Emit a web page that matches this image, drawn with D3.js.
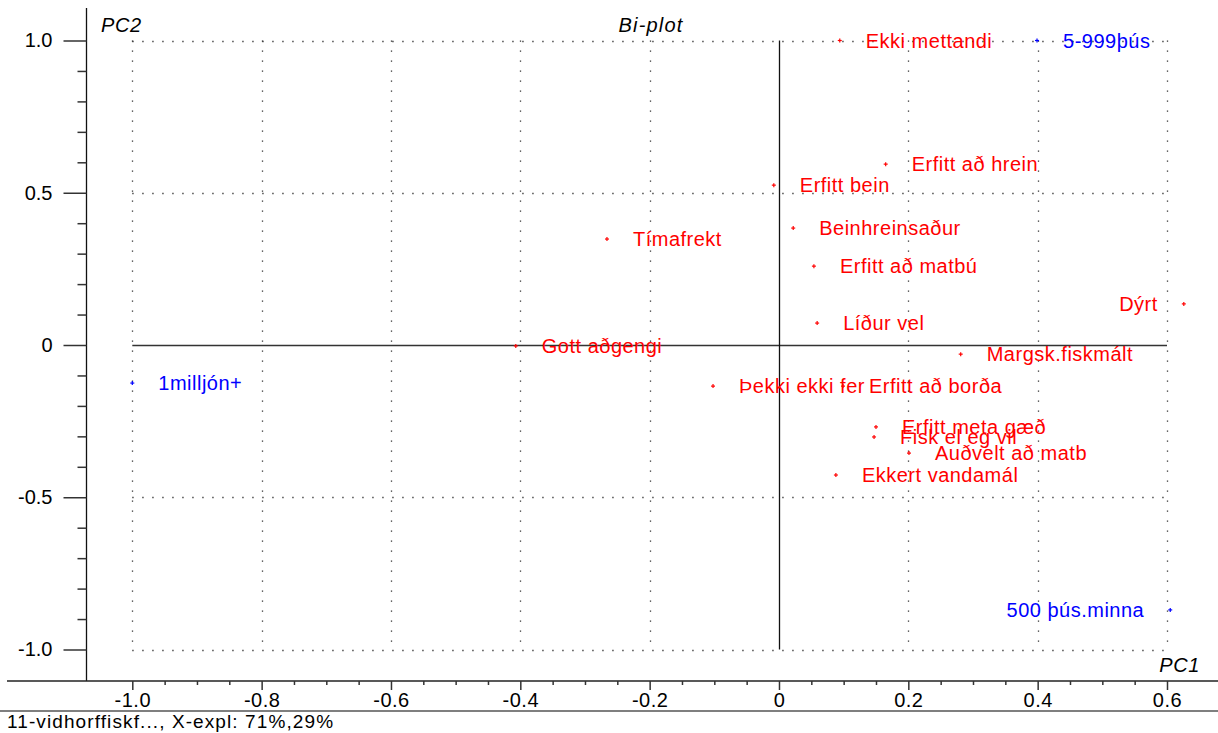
<!DOCTYPE html>
<html><head><meta charset="utf-8">
<script src="https://cdn.jsdelivr.net/npm/d3@7"></script>
<style>body{margin:0;background:#fff}svg{display:block}text{font-family:"Liberation Sans",Arial,sans-serif}</style>
</head><body>
<svg id="c" width="1218" height="733"></svg>
<script>
const labels = ["Ekki mettandi","Erfitt að hrein","Erfitt bein","Beinhreinsaður","Tímafrekt","Erfitt að matbú","Dýrt","Líður vel","Gott aðgengi","Margsk.fiskmált","Þekki ekki fer","Erfitt að borða","Erfitt meta gæð","Fisk el eg vil","Auðvelt að matb","Ekkert vandamál"];
const pc1 = [0.094,0.165,-0.008,0.022,-0.266,0.054,0.626,0.059,-0.407,0.281,-0.102,0.099,0.150,0.147,0.201,0.088];
const pc2 = [1.0,0.594,0.525,0.384,0.348,0.259,0.135,0.072,-0.003,-0.030,-0.135,-0.135,-0.269,-0.302,-0.355,-0.427];
const anchorEnd = ["Dýrt"];
const groupLabels = ["5-999þús","1milljón+","500 þús.minna"];
const groupPc1 = [0.399,-1.0,0.605];
const groupPc2 = [1.0,-0.125,-0.870];
const groupAnchorEnd = ["500 þús.minna"];
const xMajor = [-1.0,-0.8,-0.6,-0.4,-0.2,0,0.2,0.4,0.6];
const xMajorLabels = ["-1.0","-0.8","-0.6","-0.4","-0.2","0","0.2","0.4","0.6"];
const yMajor = [1.0,0.5,0,-0.5,-1.0];
const yMajorLabels = ["1.0","0.5","0","-0.5","-1.0"];
const footer = "11-vidhorffiskf..., X-expl: 71%,29%";

const svg = d3.select("#c");
const x = d3.scaleLinear().domain([-1,0.6]).range([132.3,1167]);
const y = d3.scaleLinear().domain([-1,1]).range([649.5,40.5]);

// grid
const g = svg.append("g");
xMajor.filter(v=>v!==0).forEach(v=>{
  g.append("line").attr("x1",Math.round(x(v))+0.5).attr("x2",Math.round(x(v))+0.5).attr("y1",y(1)).attr("y2",y(-1))
   .attr("stroke","#333").attr("stroke-width",1.3).attr("stroke-dasharray","1.3,8.7");
});
yMajor.filter(v=>v!==0).forEach(v=>{
  g.append("line").attr("x1",x(-1)).attr("x2",x(0.6)).attr("y1",Math.round(y(v))+0.5).attr("y2",Math.round(y(v))+0.5)
   .attr("stroke","#333").attr("stroke-width",1.3).attr("stroke-dasharray","1.3,8.7");
});
// zero axes
g.append("line").attr("x1",x(-1)).attr("x2",x(0.6)).attr("y1",Math.round(y(0))+0.5).attr("y2",Math.round(y(0))+0.5).attr("stroke","#333").attr("stroke-width",1.3);
g.append("line").attr("x1",Math.round(x(0))+0.5).attr("x2",Math.round(x(0))+0.5).attr("y1",y(1)).attr("y2",y(-1)).attr("stroke","#111").attr("stroke-width",1.3);

// left axis
const yAxisX = 86.5;
svg.append("line").attr("x1",yAxisX).attr("x2",yAxisX).attr("y1",8).attr("y2",681).attr("stroke","#111").attr("stroke-width",1.3);
const yMinor = d3.range(-10,11).map(i=>i/10).filter(v=>!yMajor.some(m=>Math.abs(m-v)<1e-9));
const yAxMinor = svg.append("g").attr("transform",`translate(${yAxisX},0)`).call(d3.axisLeft(y).tickValues(yMinor).tickSize(9).tickFormat(""));
const yAx = svg.append("g").attr("transform",`translate(${yAxisX},0)`).call(d3.axisLeft(y).tickValues(yMajor).tickSize(23).tickPadding(11).tickFormat((d,i)=>yMajorLabels[i]));
[yAxMinor,yAx].forEach(a=>{a.select(".domain").remove();a.selectAll("line").attr("stroke","#333").attr("stroke-width",1.5);});
yAx.selectAll("text").attr("font-size",20).attr("fill","#000").attr("font-family","Liberation Sans, Arial, sans-serif");

// bottom axis
const xAxisY = 681;
svg.append("line").attr("x1",7).attr("x2",1218).attr("y1",xAxisY).attr("y2",xAxisY).attr("stroke","#222").attr("stroke-width",1.5);
const xMinor = d3.range(-20,13).map(i=>i/20).filter(v=>!xMajor.some(m=>Math.abs(m-v)<1e-9));
const xAxMinor = svg.append("g").attr("transform",`translate(0,${xAxisY})`).call(d3.axisBottom(x).tickValues(xMinor).tickSize(4).tickFormat(""));
const xAx = svg.append("g").attr("transform",`translate(0,${xAxisY})`).call(d3.axisBottom(x).tickValues(xMajor).tickSize(9).tickPadding(3).tickFormat((d,i)=>xMajorLabels[i]));
[xAxMinor,xAx].forEach(a=>{a.select(".domain").remove();a.selectAll("line").attr("stroke","#333").attr("stroke-width",1.5);});
xAx.selectAll("text").attr("font-size",20).attr("letter-spacing","0.5px").attr("fill","#000").attr("font-family","Liberation Sans, Arial, sans-serif");

// footer
svg.append("line").attr("x1",0).attr("x2",1218).attr("y1",711).attr("y2",711).attr("stroke","#555").attr("stroke-width",1.5);
svg.append("text").attr("x",7).attr("y",728).attr("font-size",19).attr("letter-spacing","1.1px").attr("fill","#000").text(footer);

// titles
svg.append("text").attr("x",101).attr("y",32).attr("font-size",20).attr("letter-spacing","0.6px").attr("font-style","italic").text("PC2");
svg.append("text").attr("x",651).attr("y",32).attr("font-size",20).attr("letter-spacing","1.2px").attr("font-style","italic").attr("text-anchor","middle").text("Bi-plot");
svg.append("text").attr("x",1200).attr("y",672).attr("font-size",20).attr("letter-spacing","0.6px").attr("font-style","italic").attr("text-anchor","end").text("PC1");

function drawPoints(lbls, xs, ys, ends, color){
  const gg = svg.append("g");
  lbls.forEach((l,i)=>{
    const px = x(xs[i]), py = y(ys[i]);
    gg.append("line").attr("x1",px-2).attr("x2",px+2).attr("y1",py).attr("y2",py).attr("stroke",color).attr("stroke-width",1.2);
    gg.append("line").attr("x1",px).attr("x2",px).attr("y1",py-2).attr("y2",py+2).attr("stroke",color).attr("stroke-width",1.2);
    const end = ends.includes(l);
    gg.append("text").attr("x", end ? px-26 : px+26).attr("y",py).attr("dy","0.36em")
      .attr("text-anchor", end ? "end" : "start").attr("font-size",20).attr("letter-spacing","0.5px").attr("fill",color).text(l);
  });
}
drawPoints(labels,pc1,pc2,anchorEnd,"#ff0000");
drawPoints(groupLabels,groupPc1,groupPc2,groupAnchorEnd,"#0000ff");
</script>
</body></html>
